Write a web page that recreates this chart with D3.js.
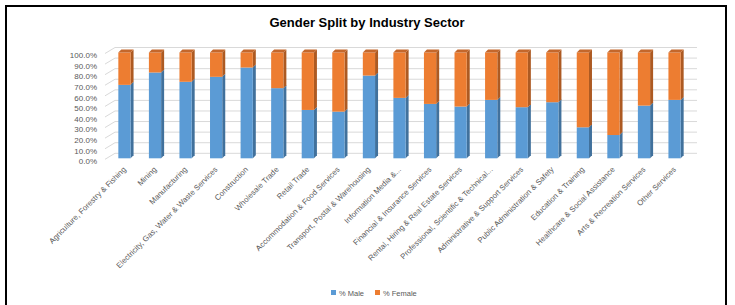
<!DOCTYPE html>
<html>
<head>
  <meta charset="UTF-8">
  <style>
body{
    margin: 0;
    background: #fff;
}
text{
    font-family: "Liberation Sans", Arial, sans-serif;
}
  </style>
</head>
<body>
<svg></svg>

<script src="https://d3js.org/d3.v7.min.js"></script>

<script>

let width = 735, height = 305;

// data
let categories = [
    "Agriculture, Forestry & Fishing", "Mining", "Manufacturing",
    "Electricity, Gas, Water & Waste Services", "Construction", "Wholesale Trade",
    "Retail Trade", "Accommodation & Food Services", "Transport, Postal & Warehousing",
    "Information Media &...", "Financial & Insurance Services",
    "Rental, Hiring & Real Estate Services", "Professional, Scientific & Technical...",
    "Administrative & Support Services", "Public Administration & Safety",
    "Education & Training", "Healthcare & Social Assistance",
    "Arts & Recreation Services", "Other Services"
]
let malePct   = [69.4, 81.1, 72.3, 77.0, 85.8, 66.3, 45.7, 44.1, 78.2, 57.1, 51.4, 48.9, 55.2, 48.3, 53.0, 29.3, 22.0, 49.8, 55.2]
let femalePct = [30.6, 18.9, 27.7, 23.0, 14.2, 33.7, 54.3, 55.9, 21.8, 42.9, 48.6, 51.1, 44.8, 51.7, 47.0, 70.7, 78.0, 50.2, 44.8]
let yTicks = [0, 10, 20, 30, 40, 50, 60, 70, 80, 90, 100]
let seriesNames = ["% Male", "% Female"]

let colors = {
    male:   {front: "#5B9BD5", side: "#41719C", top: "#4F88BC"},
    female: {front: "#ED7D31", side: "#AD5A22", top: "#C4672B"}
}
let dx = 3, dy = 3   // depth of the 3d faces

let svg = d3.select("svg")
    .attr("width", width)
    .attr("height", height)

// outer chart frame
svg.append("rect")
    .attr("x", 6).attr("y", 6)
    .attr("width", 720).attr("height", 310)
    .attr("fill", "#fff")
    .attr("stroke", "#000")
    .attr("stroke-width", 2)

svg.append("text")
    .attr("x", 367).attr("y", 27)
    .attr("text-anchor", "middle")
    .attr("font-size", 13)
    .attr("font-weight", "bold")
    .attr("fill", "#000")
    .text("Gender Split by Industry Sector")

let x = d3.scaleBand()
    .domain(categories)
    .range([100, 699])
    .padding(0.6)

let y = d3.scaleLinear()
    .domain([0, 100])
    .range([158.3, 52.5])

// gridlines on the back wall, with the slanted side-wall piece
svg.append("g")
  .selectAll("path")
  .data(yTicks)
  .enter()
  .append("path")
    .attr("fill", "none")
    .attr("stroke", "#D9D9D9")
    .attr("stroke-width", 1)
    .attr("d", d => "M105," + (y(d) + 1) + " L115," + (y(d) - 5) + " L697," + (y(d) - 5))

svg.append("g")
  .selectAll("text")
  .data(yTicks)
  .enter()
  .append("text")
    .attr("x", 97)
    .attr("y", d => y(d) + 3)
    .attr("dy", "0.35em")
    .attr("text-anchor", "end")
    .attr("font-size", 8)
    .attr("fill", "#595959")
    .text(d => d3.format(".1f")(d) + "%")

let rows = categories.map((c, i) => ({cat: c, male: malePct[i], female: femalePct[i]}))

function drawSegment(g, x0, y0, y1, col, withTop) {
    let w = x.bandwidth()
    g.append("path")
        .attr("fill", col.side)
        .attr("d", "M" + (x0 + w) + "," + y0 + " L" + (x0 + w + dx) + "," + (y0 - dy) +
            " L" + (x0 + w + dx) + "," + (y1 - dy) + " L" + (x0 + w) + "," + y1 + "Z")
    g.append("rect")
        .attr("x", x0).attr("y", y0)
        .attr("width", w).attr("height", y1 - y0)
        .attr("fill", col.front)
    if (withTop) {
        g.append("path")
            .attr("fill", col.top)
            .attr("d", "M" + x0 + "," + y0 + " L" + (x0 + dx) + "," + (y0 - dy) +
                " L" + (x0 + w + dx) + "," + (y0 - dy) + " L" + (x0 + w) + "," + y0 + "Z")
    }
}

let bars = svg.append("g")
rows.forEach(d => {
    let g = bars.append("g")
    let x0 = x(d.cat)
    drawSegment(g, x0, y(d.male), y(0), colors.male, false)
    drawSegment(g, x0, y(d.male + d.female), y(d.male), colors.female, true)
})

// category labels, rotated
svg.append("g")
  .selectAll("text")
  .data(categories)
  .enter()
  .append("text")
    .attr("transform", d => "translate(" + (x(d) + x.bandwidth() / 2 + 2) + ",170) rotate(-45)")
    .attr("text-anchor", "end")
    .attr("font-size", 7.8)
    .attr("fill", "#595959")
    .text(d => d)

// legend
let legend = svg.append("g")
let legendX = [331, 375]
seriesNames.forEach((s, i) => {
    legend.append("rect")
        .attr("x", legendX[i]).attr("y", 290)
        .attr("width", 5).attr("height", 5)
        .attr("fill", i == 0 ? colors.male.front : colors.female.front)
    legend.append("text")
        .attr("x", legendX[i] + 8).attr("y", 293)
        .attr("dy", "0.35em")
        .attr("font-size", 7.5)
        .attr("fill", "#595959")
        .text(s)
})

</script>
</body>
</html>
